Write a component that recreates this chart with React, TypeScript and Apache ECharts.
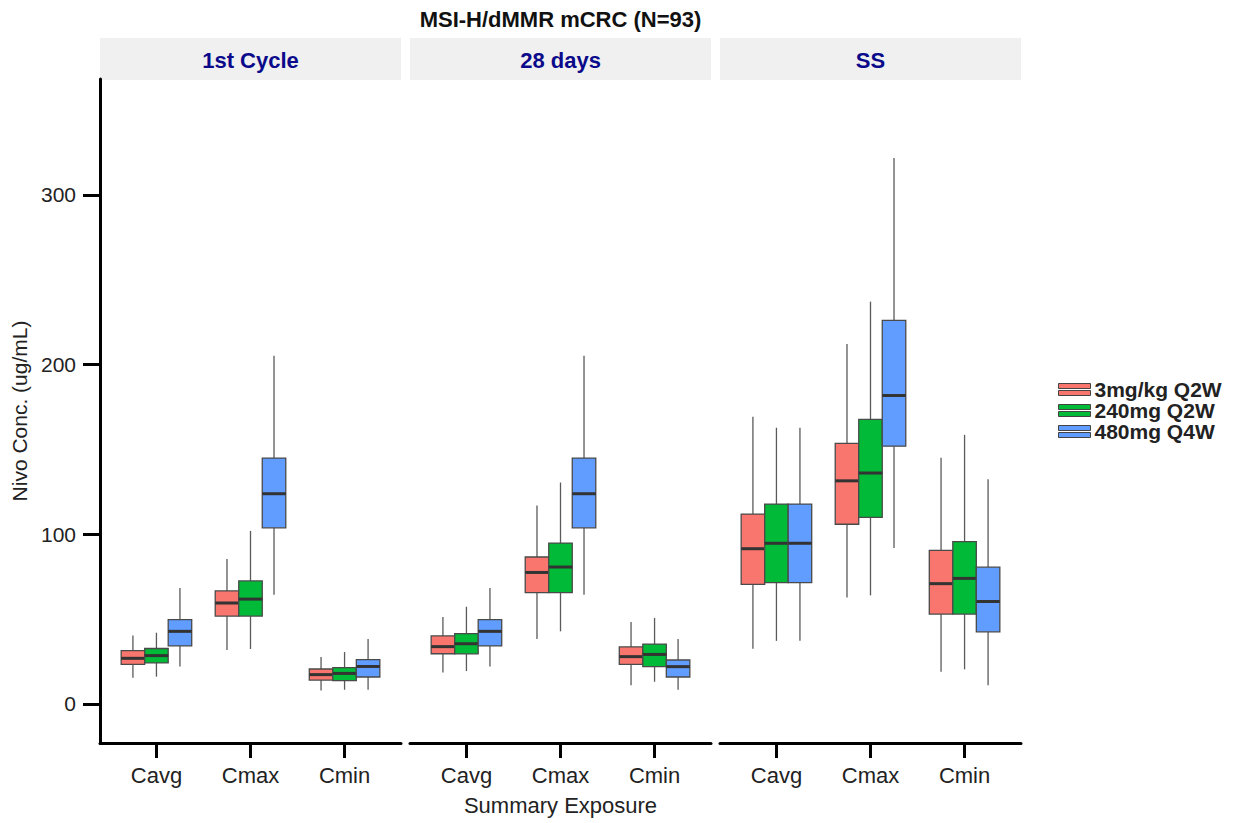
import React, { useEffect, useRef } from "react";
import * as echarts from "echarts";

const chartTitle = "MSI-H/dMMR mCRC (N=93)";
const panelNames = ["1st Cycle", "28 days", "SS"];
const exposures = ["Cavg", "Cmax", "Cmin"];
const regimens = ["3mg/kg Q2W", "240mg Q2W", "480mg Q4W"];
const regimenColors = ["#F8766D", "#00BA38", "#619CFF"];
const yTicks = [0, 100, 200, 300];
const xName = "Summary Exposure";
const yName = "Nivo Conc. (ug/mL)";

// [lower whisker, Q1, median, Q3, upper whisker] for Cavg, Cmax, Cmin
const cycle1_3mgkgQ2W = [[15.5, 23.3, 26.9, 31.4, 40.4], [31.8, 51.8, 59.5, 66.6, 85.4], [8.0, 14.1, 17.3, 20.6, 27.7]];
const cycle1_240mgQ2W = [[16.1, 24.2, 28.5, 32.7, 42.0], [32.4, 51.8, 61.8, 72.5, 102.0], [8.4, 13.7, 18.0, 21.4, 30.6]];
const cycle1_480mgQ4W = [[22.1, 34.2, 42.8, 49.7, 68.3], [64.4, 103.8, 123.9, 144.9, 205.2], [8.4, 15.9, 22.1, 26.1, 38.3]];
const day28_3mgkgQ2W = [[18.6, 29.6, 33.8, 40.1, 51.2], [38.3, 65.6, 77.5, 86.6, 117.0], [11.0, 23.3, 27.9, 33.6, 48.3]];
const day28_240mgQ2W = [[19.4, 29.5, 35.5, 41.4, 57.3], [42.8, 65.6, 80.7, 94.8, 130.5], [13.1, 22.0, 29.2, 35.3, 50.7]];
const day28_480mgQ4W = [[22.1, 34.2, 42.8, 49.7, 68.3], [64.4, 103.8, 123.9, 144.9, 205.2], [8.4, 15.9, 22.0, 25.9, 38.3]];
const ss_3mgkgQ2W = [[32.6, 70.5, 91.5, 111.9, 169.3], [62.7, 105.9, 131.5, 153.6, 212.1], [19.0, 53.0, 70.9, 90.5, 145.1]];
const ss_240mgQ2W = [[37.2, 71.5, 94.7, 117.8, 162.8], [64.0, 110.0, 136.1, 167.7, 237.1], [20.4, 53.0, 74.0, 95.7, 158.6]];
const ss_480mgQ4W = [[37.2, 71.5, 94.7, 117.8, 162.8], [91.9, 151.9, 181.8, 226.0, 321.8], [11.0, 42.5, 60.4, 80.6, 132.5]];

const panelData = [
  [cycle1_3mgkgQ2W, cycle1_240mgQ2W, cycle1_480mgQ4W],
  [day28_3mgkgQ2W, day28_240mgQ2W, day28_480mgQ4W],
  [ss_3mgkgQ2W, ss_240mgQ2W, ss_480mgQ4W],
];

const PANEL_LEFT = [100, 410, 720];
const PANEL_W = 301;
const PANEL_TOP = 79;
const PANEL_H = 664;
const Y_MIN = -23;
const Y_MAX = 368.3;
const TEXT = "#222222";
const FONT = "Liberation Sans, Arial, sans-serif";

function makeRender(gi: number, color: string) {
  return (_params: any, api: any) => {
    const x = api.value(0);
    const lo = api.coord([x, api.value(1)]);
    const q1 = api.coord([x, api.value(2)]);
    const md = api.coord([x, api.value(3)]);
    const q3 = api.coord([x, api.value(4)]);
    const hi = api.coord([x, api.value(5)]);
    const band = api.size([1, 0])[0];
    const w = (band * 0.75) / 3;
    const cx = lo[0] + (gi - 1) * w;
    const whisker = { stroke: "#5a5a5a", lineWidth: 1.3 };
    return {
      type: "group",
      children: [
        { type: "line", shape: { x1: cx, y1: hi[1], x2: cx, y2: q3[1] }, style: whisker },
        { type: "line", shape: { x1: cx, y1: q1[1], x2: cx, y2: lo[1] }, style: whisker },
        {
          type: "rect",
          shape: { x: cx - w / 2, y: q3[1], width: w, height: q1[1] - q3[1] },
          style: { fill: color, stroke: "#4a4a4a", lineWidth: 1.3 },
        },
        {
          type: "line",
          shape: { x1: cx - w / 2, y1: md[1], x2: cx + w / 2, y2: md[1] },
          style: { stroke: "#333333", lineWidth: 3 },
        },
      ],
    };
  };
}

export default function App() {
  const ref = useRef<HTMLDivElement>(null);

  useEffect(() => {
    if (!ref.current) return;
    const chart = echarts.init(ref.current, undefined, { renderer: "svg" });

    const grids: any[] = [];
    const xAxes: any[] = [];
    const yAxes: any[] = [];
    const series: any[] = [];
    const graphics: any[] = [];

    panelNames.forEach((pname, p) => {
      grids.push({
        left: PANEL_LEFT[p],
        top: PANEL_TOP,
        width: PANEL_W,
        height: PANEL_H,
        containLabel: false,
        outerBoundsMode: "none",
      });
      xAxes.push({
        type: "value",
        gridIndex: p,
        min: 0.4,
        max: 3.6,
        splitLine: { show: false },
        axisLine: { show: true, onZero: false, lineStyle: { color: "#000", width: 3 } },
        axisTick: { show: true, customValues: [1, 2, 3], length: 15, lineStyle: { color: "#000", width: 3 } },
        axisLabel: {
          show: true,
          customValues: [1, 2, 3],
          formatter: (v: number) => exposures[Math.round(v) - 1] ?? "",
          fontSize: 22,
          color: TEXT,
          fontFamily: FONT,
          margin: 21,
        },
        name: p === 1 ? xName : "",
        nameLocation: "middle",
        nameGap: 51,
        nameTextStyle: { fontSize: 22, color: TEXT, fontFamily: FONT },
      });
      yAxes.push({
        type: "value",
        gridIndex: p,
        min: Y_MIN,
        max: Y_MAX,
        show: p === 0,
        splitLine: { show: false },
        axisLine: { show: true, onZero: false, lineStyle: { color: "#000", width: 3 } },
        axisTick: { show: true, customValues: yTicks, length: 17, lineStyle: { color: "#000", width: 3 } },
        axisLabel: {
          show: true,
          customValues: yTicks,
          fontSize: 21,
          color: TEXT,
          fontFamily: FONT,
          margin: 24,
        },
        name: p === 0 ? yName : "",
        nameLocation: "middle",
        nameRotate: 90,
        nameGap: 70,
        nameTextStyle: { fontSize: 21, color: TEXT, fontFamily: FONT },
      });

      regimens.forEach((rname, g) => {
        const rows = panelData[p][g];
        series.push({
          type: "custom",
          name: rname,
          xAxisIndex: p,
          yAxisIndex: p,
          itemStyle: { color: regimenColors[g] },
          encode: { x: 0, y: [1, 2, 3, 4, 5] },
          renderItem: makeRender(g, regimenColors[g]),
          data: exposures.map((_e, i) => [i + 1, ...rows[i]]),
          z: 2,
        });
      });

      graphics.push({
        type: "rect",
        shape: { x: PANEL_LEFT[p], y: 38, width: PANEL_W, height: 42 },
        style: { fill: "#F0F0F0" },
        silent: true,
      });
      graphics.push({
        type: "text",
        x: PANEL_LEFT[p] + PANEL_W / 2,
        y: 60,
        style: {
          text: pname,
          fill: "#0A0A8A",
          font: `bold 22px ${FONT}`,
          textAlign: "center",
          textVerticalAlign: "middle",
        },
        silent: true,
      });
    });

    graphics.push({
      type: "text",
      x: (PANEL_LEFT[0] + PANEL_LEFT[2] + PANEL_W) / 2,
      y: 19,
      style: {
        text: chartTitle,
        fill: "#111",
        font: `bold 22px ${FONT}`,
        textAlign: "center",
        textVerticalAlign: "middle",
      },
      silent: true,
    });

    chart.setOption({
      animation: false,
      backgroundColor: "#ffffff",
      textStyle: { fontFamily: FONT },
      grid: grids,
      xAxis: xAxes,
      yAxis: yAxes,
      series,
      graphic: graphics,
      legend: {
        data: regimens,
        orient: "vertical",
        left: 1058,
        top: 379,
        padding: 0,
        itemWidth: 32,
        itemHeight: 12,
        itemGap: 0,
        icon: "path://M0,0H32V5H0Z M0,7H32V12H0Z",
        itemStyle: { borderColor: "#444", borderWidth: 1 },
        textStyle: {
          fontSize: 21,
          lineHeight: 21,
          fontWeight: "bold",
          color: TEXT,
          fontFamily: FONT,
          padding: [0, 0, 0, -1],
        },
        selectedMode: false,
      },
    });

    return () => chart.dispose();
  }, []);

  return (
    <div
      ref={ref}
      style={{ position: "absolute", left: 0, top: 0, width: 1236, height: 823 }}
    />
  );
}
